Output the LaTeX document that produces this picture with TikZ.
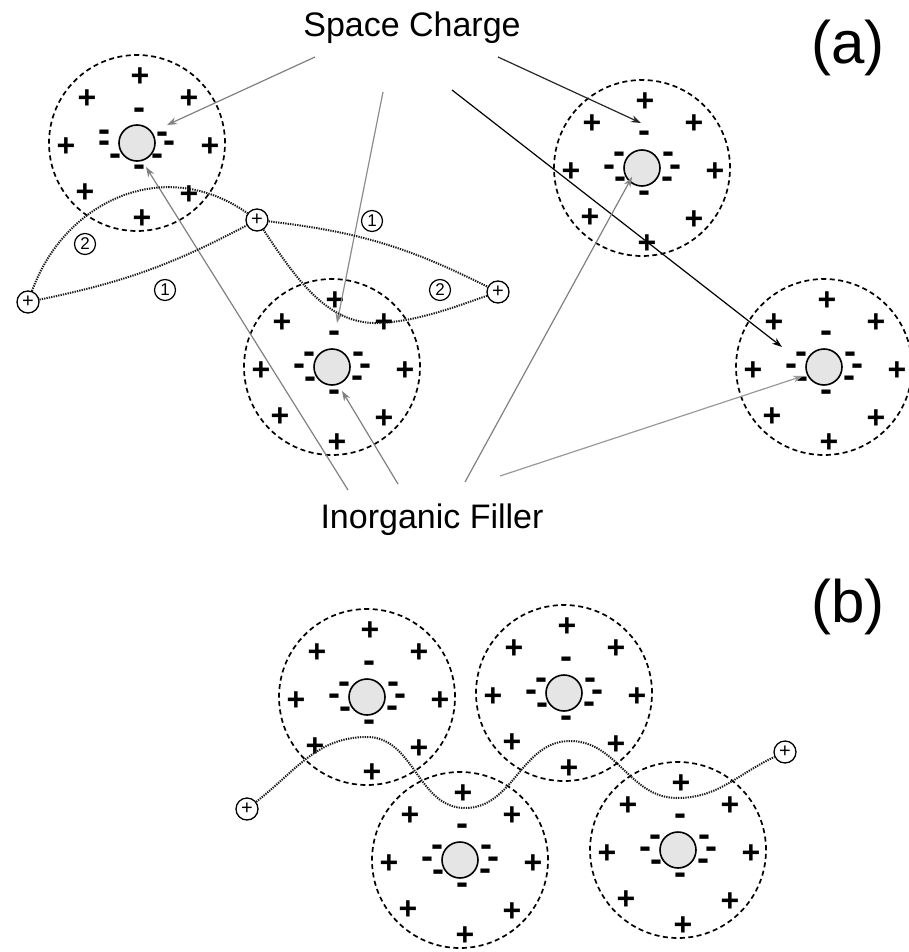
\documentclass[tikz,border=0pt]{standalone}
\usepackage{fontspec}
\setmainfont{Liberation Sans}
\usetikzlibrary{arrows.meta}

% offsets of the negative charges round a filler particle
\newcommand\stdminus{2/-31, -23/-10, 26/-10, -33/2, 33/2, -22/15, 25/14, 2/28}
\newcommand\firstminus{2/-29, -33/-7, 25/-5, -33/4, 32/4, -22/16, 20/16, 2/28}

% one filler particle with its shell of space charge
\newcommand\chargecell[4]{%
  \node[region] (#1) at (#2,#3) {};
  \node[filler] (#1f) at (#2,#3) {};
  \foreach \dx/\dy [count=\i] in {3/-66,-50/-44,52/-44,-71/4,73/4,-52/50,52/52,5/76}
    \node[poscharge] (#1p\i) at (#2+\dx,#3+\dy) {+};
  \foreach \dx/\dy [count=\i] in #4
    \node[negcharge] (#1m\i) at (#2+\dx,#3+\dy) {-};
}

\tikzset{
  region/.style={circle, draw, line width=1.7pt, dash pattern=on 5pt off 3.5pt,
    minimum size=176pt, inner sep=0pt},
  filler/.style={circle, draw, line width=1.6pt, fill=black!10,
    minimum size=36pt, inner sep=0pt},
  % boxes cut to the glyphs so that the node centre is the sign's centre
  poscharge/.style={inner sep=0pt, text height=19.5pt, text depth=-3pt,
    font=\bfseries\fontsize{32}{32}\selectfont},
  negcharge/.style={inner sep=0pt, text height=12pt, text depth=-8pt,
    font=\bfseries\fontsize{36}{36}\selectfont},
  carrier/.style={circle, draw, line width=1.3pt, minimum size=22pt, inner sep=0pt,
    font=\fontsize{20}{20}\selectfont},
  routeno/.style={circle, draw, line width=1.2pt, minimum size=21pt, inner sep=0pt,
    font=\fontsize{17}{17}\selectfont},
  route/.style={line width=2pt, dash pattern=on 1.3pt off 1.1pt, black!90},
  pointer/.style={-{Stealth[length=10pt,width=7pt]}, line width=1.2pt},
  lbl/.style={anchor=base, inner sep=0pt, font=\fontsize{34}{34}\selectfont},
  panel/.style={anchor=base, inner sep=0pt, font=\fontsize{60}{60}\selectfont},
}

\begin{document}
\begin{tikzpicture}[x=1pt, y=-1pt]
\useasboundingbox (0,0) rectangle (909,952);

% ---------------- (a) ----------------
\chargecell{ca}{137}{143}{\firstminus}
\chargecell{cb}{332}{367}{\stdminus}
\chargecell{cc}{642}{168}{\stdminus}
\chargecell{cd}{824}{367}{\stdminus}

\node[lbl] (space) at (412,37) {Space Charge};
\node[lbl] (inorg) at (432,528) {Inorganic Filler};
\node[panel] (pa) at (848,64) {(a)};

% pointers from the labels
\coordinate (sc1) at (315,57);  \coordinate (t1) at (167,125);
\coordinate (sc2) at (383,92);  \coordinate (t2) at (337,323);
\coordinate (sc3) at (452,90);  \coordinate (t3) at (782,347);
\coordinate (sc4) at (498,57);  \coordinate (t4) at (641,123);
\coordinate (if1) at (348,490); \coordinate (u1) at (146,167);
\coordinate (if2) at (398,484); \coordinate (u2) at (342,391);
\coordinate (if3) at (465,482); \coordinate (u3) at (632,177);
\coordinate (if4) at (500,476); \coordinate (u4) at (803,376);

\draw[pointer, black!50] (sc1) -- (t1);
\draw[pointer, black!45] (sc2) -- (t2);
\draw[pointer, black]    (sc3) -- (t3);
\draw[pointer, black!85] (sc4) -- (t4);
\draw[pointer, black!50] (if1) -- (u1);
\draw[pointer, black!50] (if2) -- (u2);
\draw[pointer, black!50] (if3) -- (u3);
\draw[pointer, black!40] (if4) -- (u4);

% charge carriers and their two routes
\node[carrier] (k1) at (28,302) {+};
\node[carrier] (k2) at (257,220) {+};
\node[carrier] (k3) at (498,292) {+};

\coordinate (dip) at (380,323);
\draw[route] (k1) .. controls (65,200) and (165,155) .. (k2);
\draw[route] (k1) to[bend right=8] (k2);
\draw[route] (k2) to[bend left=10] (k3);
\draw[route] (k2) .. controls (300,285) and (330,325) .. (dip)
                  .. controls (420,321) and (460,305) .. (k3);

\node[routeno] (n2a) at (85,244) {2};
\node[routeno] (n1a) at (165,290) {1};
\node[routeno] (n1b) at (372,221) {1};
\node[routeno] (n2b) at (440,290) {2};

% ---------------- (b) ----------------
\node[panel] (pb) at (848,622) {(b)};

\chargecell{ce}{367}{697}{\stdminus}
\chargecell{cf}{564}{693}{\stdminus}
\chargecell{cg}{460}{860}{\stdminus}
\chargecell{ch}{678}{850}{\stdminus}

\node[carrier] (k4) at (247,809) {+};
\node[carrier] (k5) at (785,752) {+};

\coordinate (w1) at (367,737);
\coordinate (w2) at (465,808);
\coordinate (w3) at (570,741);
\coordinate (w4) at (677,798);
\draw[route] (k4) to[out=38,in=180] (w1) to[out=0,in=180] (w2)
  to[out=0,in=180] (w3) to[out=0,in=180] (w4) to[out=0,in=205] (k5);
\end{tikzpicture}
\end{document}
